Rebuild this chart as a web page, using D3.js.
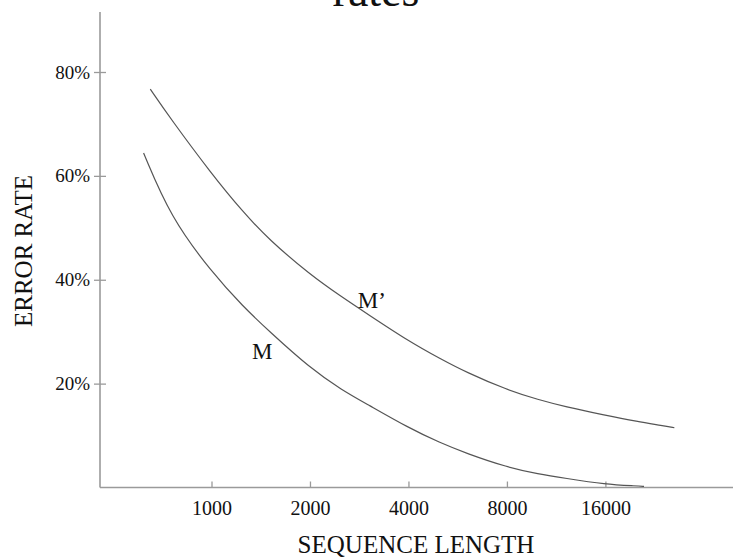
<!DOCTYPE html>
<html>
<head>
<meta charset="utf-8">
<script src="https://cdn.jsdelivr.net/npm/d3@7"></script>
<style>
  body { margin: 0; background: #fff; }
  svg { display: block; }
  text { font-family: "Liberation Serif", "Times New Roman", serif; fill: #111; }
</style>
</head>
<body>
<div id="chart"></div>
<script>
// values
var lengthTicks = [1000, 2000, 4000, 8000, 16000];
var rateTicks = [20, 40, 60, 80];

var lengthsMp = [650, 750, 1000, 1250, 1500, 2000, 2500, 3000, 4000, 5000, 6000, 8000, 10000, 12000, 16000, 20000, 24000, 26000];
var errorMp = [76.7, 71.0, 60.4, 53.0, 47.7, 41.0, 36.7, 33.4, 28.2, 24.8, 22.2, 18.8, 16.9, 15.6, 13.9, 12.7, 11.9, 11.5];

var lengthsM = [620, 750, 1000, 1250, 1500, 2000, 2500, 3000, 4000, 5000, 6000, 8000, 10000, 12000, 16000, 20000, 21000];
var errorM = [64.4, 52.0, 41.5, 34.8, 30.1, 23.0, 18.8, 16.0, 11.5, 8.6, 6.6, 3.9, 2.6, 1.8, 0.6, 0.3, 0.2];

var seriesNames = ["M\u2019", "M"];
var labelAt = [[2800, 34.6], [1330, 24.8]];

var W = 733, H = 558;

var svg = d3.select("#chart").append("svg")
    .attr("width", W)
    .attr("height", H);

var x = d3.scaleLog().base(2)
    .domain([1000, 16000])
    .range([211.5, 605.4]);

var y = d3.scaleLinear()
    .domain([0, 80])
    .range([487.5, 72]);

var axisColor = "#9a9a9a";

// title, mostly cut off at the top (as in the original)
svg.append("text")
    .attr("x", 376)
    .attr("y", 5.5)
    .attr("text-anchor", "middle")
    .style("font-size", "46px")
    .text("rates");

// x axis
var gx = svg.append("g")
    .attr("transform", "translate(0," + y(0) + ")")
    .call(d3.axisBottom(x)
        .tickValues(lengthTicks)
        .tickFormat(d3.format("d"))
        .tickSizeInner(-6)
        .tickSizeOuter(0)
        .tickPadding(13.6));
gx.select(".domain").remove();
gx.selectAll(".tick line").attr("stroke", axisColor).attr("stroke-width", 1.3);
gx.selectAll(".tick text").style("font-size", "20px").attr("fill", "#111");

svg.append("line")
    .attr("x1", 100).attr("x2", W)
    .attr("y1", y(0)).attr("y2", y(0))
    .attr("stroke", axisColor)
    .attr("stroke-width", 1.6);

// y axis
var gy = svg.append("g")
    .attr("transform", "translate(100,0)")
    .call(d3.axisLeft(y)
        .tickValues(rateTicks)
        .tickFormat(function(d) { return d + "%"; })
        .tickSizeInner(6)
        .tickSizeOuter(0)
        .tickPadding(4));
gy.select(".domain").remove();
gy.selectAll(".tick line").attr("x1", 6).attr("stroke", axisColor).attr("stroke-width", 1.3);
gy.selectAll(".tick text").style("font-size", "19px").attr("fill", "#111");

svg.append("line")
    .attr("x1", 100).attr("x2", 100)
    .attr("y1", 12).attr("y2", y(0))
    .attr("stroke", axisColor)
    .attr("stroke-width", 1.6);

// axis titles
svg.append("text")
    .attr("x", 416)
    .attr("y", 553)
    .attr("text-anchor", "middle")
    .style("font-size", "25px")
    .text("SEQUENCE LENGTH");

svg.append("text")
    .attr("transform", "translate(31.5,251) rotate(-90)")
    .attr("text-anchor", "middle")
    .style("font-size", "25px")
    .text("ERROR RATE");

// curves
var line = d3.line()
    .x(function(d) { return x(d[0]); })
    .y(function(d) { return y(d[1]); })
    .curve(d3.curveBasis);

var curves = [d3.zip(lengthsMp, errorMp), d3.zip(lengthsM, errorM)];

svg.selectAll("path.curve")
    .data(curves)
    .enter().append("path")
    .attr("class", "curve")
    .attr("d", line)
    .attr("fill", "none")
    .attr("stroke", "#555")
    .attr("stroke-width", 1.2);

svg.selectAll("text.curve-label")
    .data(seriesNames)
    .enter().append("text")
    .attr("class", "curve-label")
    .attr("x", function(d, i) { return x(labelAt[i][0]); })
    .attr("y", function(d, i) { return y(labelAt[i][1]); })
    .style("font-size", "23px")
    .text(function(d) { return d; });
</script>
</body>
</html>
